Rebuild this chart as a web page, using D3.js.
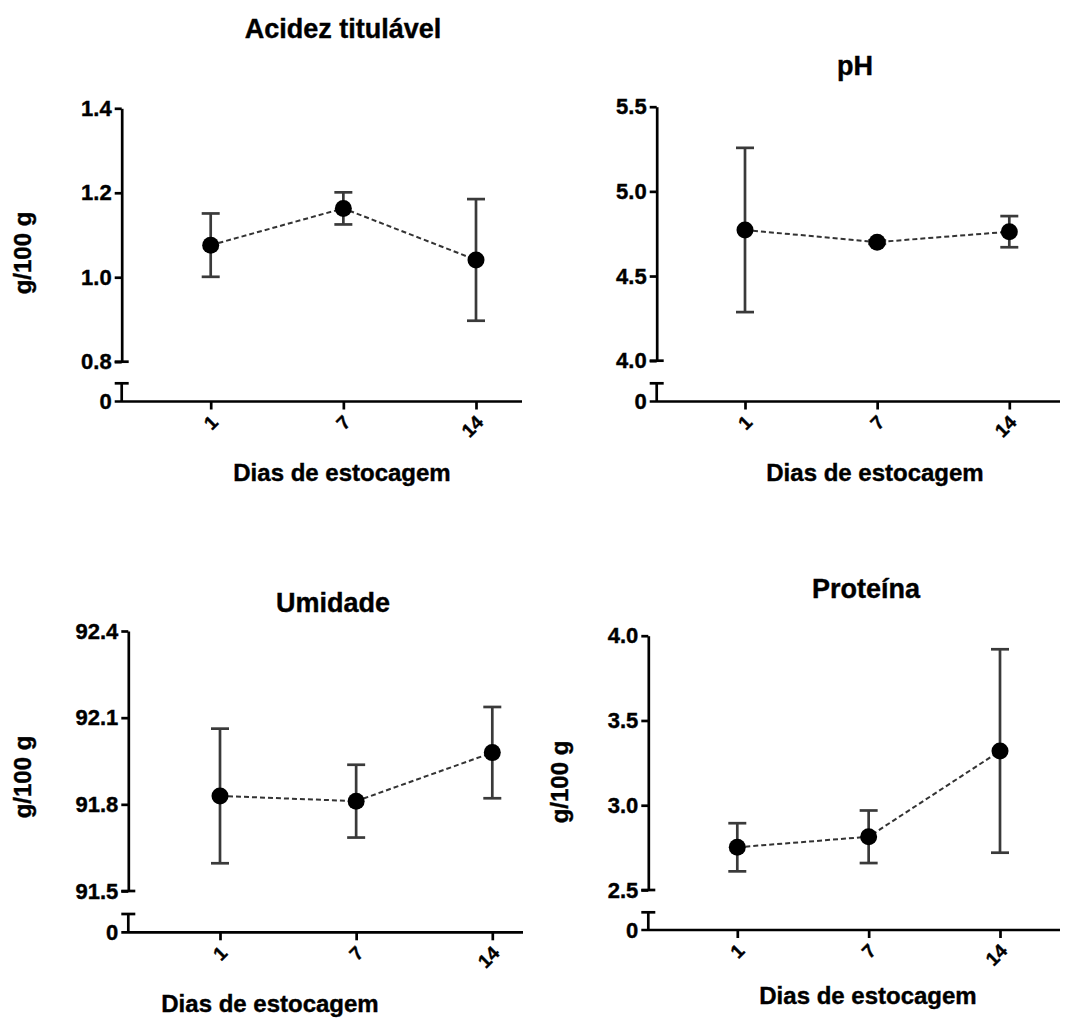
<!DOCTYPE html>
<html>
<head>
<script src="https://d3js.org/d3.v7.min.js"></script>
<style>
  body { margin: 0; background: #fff; font-family: "Liberation Sans", Arial, sans-serif; }
  text { font-weight: bold; fill: #000; stroke: #000; stroke-width: 0.4px; }
</style>
</head>
<body>
<script>
// data (mean and +/- error for each storage day)
var days = ["1", "7", "14"];

var acidezMean = [1.076, 1.163, 1.041];
var acidezErr = [0.075, 0.038, 0.144];
var acidezTicks = [0.8, 1.0, 1.2, 1.4];

var phMean = [4.772, 4.700, 4.762];
var phErr = [0.485, 0.010, 0.092];
var phTicks = [4.0, 4.5, 5.0, 5.5];

var umidadeMean = [91.829, 91.811, 91.979];
var umidadeErr = [0.233, 0.126, 0.158];
var umidadeTicks = [91.5, 91.8, 92.1, 92.4];

var proteinaMean = [2.752, 2.814, 3.320];
var proteinaErr = [0.142, 0.155, 0.600];
var proteinaTicks = [2.5, 3.0, 3.5, 4.0];

var width = 1091, height = 1021;

var svg = d3.select("body").append("svg")
  .attr("width", width)
  .attr("height", height);

// layout of the four panels
var panels = [
  { title: "Acidez titulável", mean: acidezMean, err: acidezErr, ticks: acidezTicks, ylabel: "g/100 g",
    ax: 121.7, top: 108.3, bottom: 361.7, base: 401.5, brk: 383.3, x0: 210.7, x1: 476, xEnd: 522,
    titleX: 343, titleY: 38, xtX: 342, xtY: 481, ylX: 31, ylY: 253 },
  { title: "pH", mean: phMean, err: phErr, ticks: phTicks, ylabel: null,
    ax: 656.7, top: 106.7, bottom: 360.7, base: 401.5, brk: 383.3, x0: 745, x1: 1009.3, xEnd: 1060,
    titleX: 855, titleY: 75, xtX: 875, xtY: 481 },
  { title: "Umidade", mean: umidadeMean, err: umidadeErr, ticks: umidadeTicks, ylabel: "g/100 g",
    ax: 128.3, top: 631, bottom: 891, base: 932.3, brk: 914, x0: 220, x1: 492.3, xEnd: 523,
    titleX: 333, titleY: 612, xtX: 270, xtY: 1012, ylX: 31, ylY: 777 },
  { title: "Proteína", mean: proteinaMean, err: proteinaErr, ticks: proteinaTicks, ylabel: "g/100 g",
    ax: 648.3, top: 635.7, bottom: 890, base: 930, brk: 912.3, x0: 737.3, x1: 1000, xEnd: 1060,
    titleX: 866, titleY: 598, xtX: 868, xtY: 1004, ylX: 568, ylY: 782 }
];

var fmt = d3.format(".1f");

panels.forEach(function(p) {
  var g = svg.append("g");

  var x = d3.scalePoint().domain(days).range([p.x0, p.x1]);
  var y = d3.scaleLinear()
    .domain([p.ticks[0], p.ticks[p.ticks.length - 1]])
    .range([p.bottom, p.top]);

  // y axis (upper segment)
  var yAxis = g.append("g")
    .attr("transform", "translate(" + p.ax + ",0)")
    .call(d3.axisLeft(y).tickValues(p.ticks).tickFormat(fmt).tickSize(7).tickSizeOuter(0));
  yAxis.select(".domain").attr("stroke-width", 2.7);
  yAxis.selectAll(".tick line").attr("stroke-width", 2.7);
  yAxis.selectAll(".tick text")
    .attr("font-size", 22)
    .attr("font-family", "Liberation Sans, Arial, sans-serif")
    .attr("font-weight", "bold");

  // break marker at bottom of upper segment
  g.append("line")
    .attr("x1", p.ax - 7).attr("x2", p.ax + 7)
    .attr("y1", p.bottom).attr("y2", p.bottom)
    .attr("stroke", "#000").attr("stroke-width", 2.7);

  // lower segment with 0
  g.append("line")
    .attr("x1", p.ax).attr("x2", p.ax)
    .attr("y1", p.brk).attr("y2", p.base)
    .attr("stroke", "#000").attr("stroke-width", 2.7);
  g.append("line")
    .attr("x1", p.ax - 7).attr("x2", p.ax + 7)
    .attr("y1", p.brk).attr("y2", p.brk)
    .attr("stroke", "#000").attr("stroke-width", 2.7);
  g.append("text")
    .attr("x", p.ax - 10).attr("y", p.base)
    .attr("dy", "0.35em")
    .attr("text-anchor", "end")
    .attr("font-size", 22)
    .text("0");

  // x axis
  g.append("line")
    .attr("x1", p.ax - 7).attr("x2", p.xEnd)
    .attr("y1", p.base).attr("y2", p.base)
    .attr("stroke", "#000").attr("stroke-width", 2.7);
  var xAxis = g.append("g")
    .attr("transform", "translate(0," + p.base + ")")
    .call(d3.axisBottom(x).tickSize(8).tickSizeOuter(0));
  xAxis.select(".domain").remove();
  xAxis.selectAll(".tick line").attr("stroke-width", 2.7);
  xAxis.selectAll(".tick text")
    .attr("font-size", 19)
    .attr("font-family", "Liberation Sans, Arial, sans-serif")
    .attr("font-weight", "bold")
    .attr("text-anchor", "end")
    .attr("y", 0).attr("dy", 0)
    .attr("transform", "translate(8,22) rotate(-45)");

  // connecting dashed line
  var idx = d3.range(days.length);
  g.append("path")
    .datum(idx)
    .attr("fill", "none")
    .attr("stroke", "#333")
    .attr("stroke-width", 2)
    .attr("stroke-dasharray", "5,3")
    .attr("d", d3.line()
      .x(function(i) { return x(days[i]); })
      .y(function(i) { return y(p.mean[i]); }));

  // error bars
  var eb = g.selectAll(".eb").data(idx).enter().append("g")
    .attr("stroke", "#3a3a3a").attr("stroke-width", 2.7);
  eb.append("line")
    .attr("x1", function(i) { return x(days[i]); })
    .attr("x2", function(i) { return x(days[i]); })
    .attr("y1", function(i) { return y(p.mean[i] - p.err[i]); })
    .attr("y2", function(i) { return y(p.mean[i] + p.err[i]); });
  [-1, 1].forEach(function(s) {
    eb.append("line")
      .attr("x1", function(i) { return x(days[i]) - 9; })
      .attr("x2", function(i) { return x(days[i]) + 9; })
      .attr("y1", function(i) { return y(p.mean[i] + s * p.err[i]); })
      .attr("y2", function(i) { return y(p.mean[i] + s * p.err[i]); });
  });

  // points
  g.selectAll(".pt").data(idx).enter().append("circle")
    .attr("cx", function(i) { return x(days[i]); })
    .attr("cy", function(i) { return y(p.mean[i]); })
    .attr("r", 8.5)
    .attr("fill", "#000");

  // titles
  g.append("text")
    .attr("x", p.titleX).attr("y", p.titleY)
    .attr("text-anchor", "middle")
    .attr("font-size", 27)
    .text(p.title);
  g.append("text")
    .attr("x", p.xtX).attr("y", p.xtY)
    .attr("text-anchor", "middle")
    .attr("font-size", 24)
    .text("Dias de estocagem");
  if (p.ylabel) {
    g.append("text")
      .attr("transform", "translate(" + p.ylX + "," + p.ylY + ") rotate(-90)")
      .attr("text-anchor", "middle")
      .attr("font-size", 24)
      .text(p.ylabel);
  }
});
</script>
</body>
</html>
